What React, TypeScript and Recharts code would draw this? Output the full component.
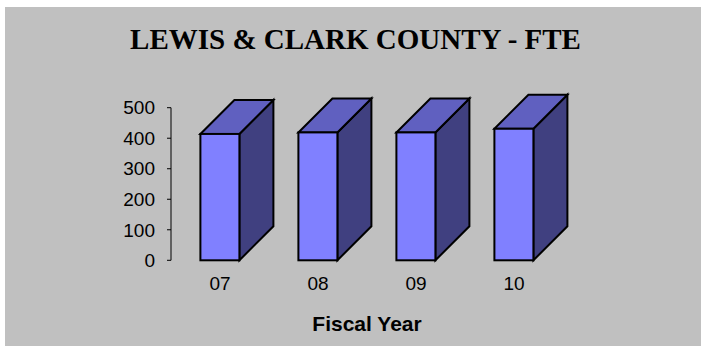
import { BarChart, Bar, XAxis, YAxis } from 'recharts';

const years = ['07', '08', '09', '10'];
const fte = [414, 419, 419, 431];
const yTicks = [0, 100, 200, 300, 400, 500];

const data = years.map((year, i) => ({ year, fte: fte[i] }));

// depth of the fake 3D extrusion
const DX = 34;
const DY = -34;

const Box3D = (props: any) => {
  const { x, y, width: w, height: h } = props;
  if (h == null || w == null) return null;
  const side = `${x + w},${y} ${x + w + DX},${y + DY} ${x + w + DX},${y + h + DY} ${x + w},${y + h}`;
  const top = `${x},${y} ${x + DX},${y + DY} ${x + w + DX},${y + DY} ${x + w},${y}`;
  return (
    <g stroke="#000" strokeWidth={2} strokeLinejoin="miter">
      <polygon points={side} fill="#404080" />
      <polygon points={top} fill="#6060C0" />
      <rect x={x} y={y} width={w} height={h} fill="#8080FF" />
    </g>
  );
};

const axisFont = { fontFamily: '"Liberation Sans", Arial, sans-serif', fontSize: 19, fill: '#000' };

export default function App() {
  return (
    <div style={{ position: 'absolute', left: 0, top: 0, width: 701, height: 346, background: '#fff' }}>
      <div style={{ position: 'absolute', left: 5, top: 7, width: 696, height: 339, background: '#C0C0C0' }} />
      <svg width={701} height={346} style={{ position: 'absolute', left: 0, top: 0 }}>
        <text
          x={355.5}
          y={49.3}
          textAnchor="middle"
          fontFamily='"Liberation Serif", "Times New Roman", serif'
          fontWeight="bold"
          fontSize={29}
          fill="#000"
        >
          LEWIS &amp; CLARK COUNTY - FTE
        </text>
      </svg>
      <div style={{ position: 'absolute', left: 0, top: 0 }}>
        <BarChart
          width={701}
          height={346}
          data={data}
          margin={{ top: 107.7, right: 138, bottom: 0, left: 0 }}
          barCategoryGap="30%"
        >
          <XAxis
            dataKey="year"
            height={85.7}
            axisLine={false}
            tickLine={false}
            tickSize={0}
            tickMargin={16}
            tick={axisFont}
            label={{
              content: () => (
                <text
                  x={367}
                  y={330.7}
                  textAnchor="middle"
                  fontFamily='"Liberation Sans", Arial, sans-serif'
                  fontWeight="bold"
                  fontSize={21}
                  fill="#000"
                >
                  Fiscal Year
                </text>
              ),
            }}
          />
          <YAxis
            width={171}
            domain={[0, 500]}
            ticks={yTicks}
            interval={0}
            axisLine={{ stroke: '#000', strokeWidth: 1 }}
            tickLine={{ stroke: '#000', strokeWidth: 1 }}
            tickSize={4}
            tickMargin={12}
            tick={axisFont}
          />
          <Bar dataKey="fte" shape={Box3D} isAnimationActive={false} />
        </BarChart>
      </div>
    </div>
  );
}
